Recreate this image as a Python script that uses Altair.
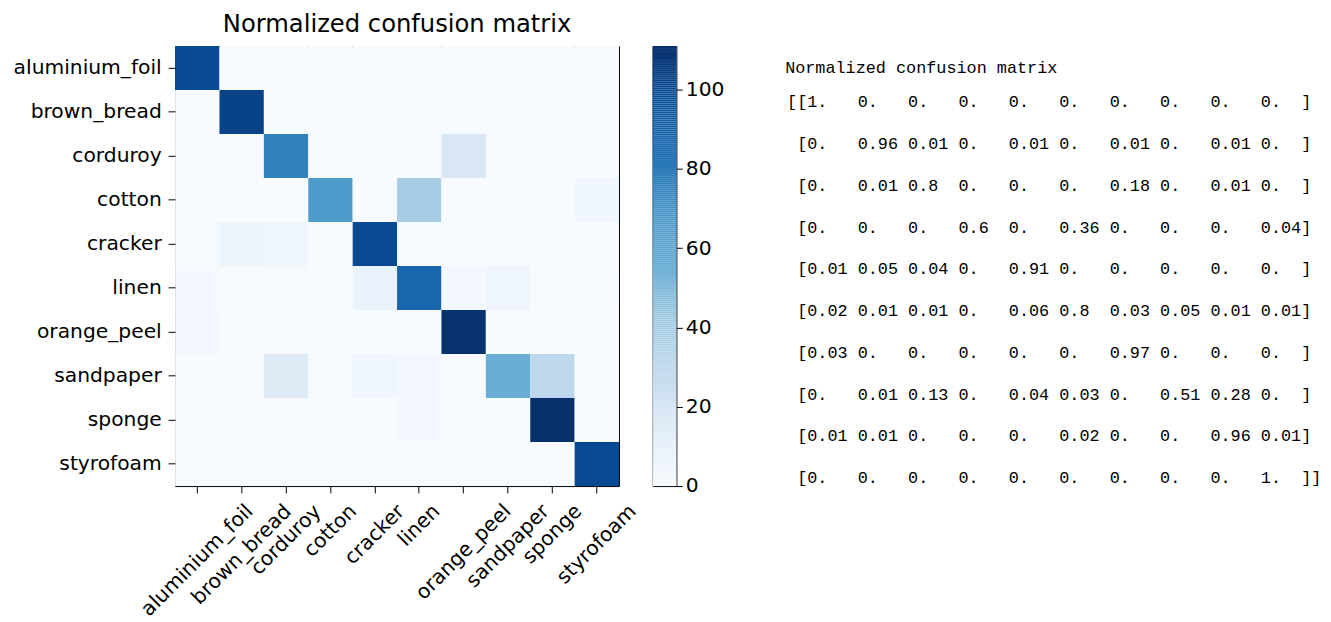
import math
import altair as alt
import pandas as pd

classes = ["aluminium_foil", "brown_bread", "corduroy", "cotton", "cracker",
           "linen", "orange_peel", "sandpaper", "sponge", "styrofoam"]

# raw counts shown by the heatmap colours (rows = true, cols = predicted)
counts = [
    [100, 0, 0, 0, 0, 0, 0, 0, 0, 0],
    [0, 103, 1, 0, 1, 0, 1, 0, 1, 0],
    [0, 1, 76, 0, 0, 0, 17, 0, 1, 0],
    [0, 0, 0, 65, 0, 39, 0, 0, 0, 4],
    [1, 6, 4, 0, 100, 0, 0, 0, 0, 0],
    [2, 1, 1, 0, 7, 88, 3, 5, 1, 1],
    [3, 0, 0, 0, 0, 0, 110, 0, 0, 0],
    [0, 1, 14, 0, 4, 3, 0, 56, 31, 0],
    [1, 1, 0, 0, 0, 2, 0, 0, 111, 1],
    [0, 0, 0, 0, 0, 0, 0, 0, 0, 100],
]

# normalized matrix printed on the right
normalized = [
    [1.0, 0, 0, 0, 0, 0, 0, 0, 0, 0],
    [0, 0.96, 0.01, 0, 0.01, 0, 0.01, 0, 0.01, 0],
    [0, 0.01, 0.8, 0, 0, 0, 0.18, 0, 0.01, 0],
    [0, 0, 0, 0.6, 0, 0.36, 0, 0, 0, 0.04],
    [0.01, 0.05, 0.04, 0, 0.91, 0, 0, 0, 0, 0],
    [0.02, 0.01, 0.01, 0, 0.06, 0.8, 0.03, 0.05, 0.01, 0.01],
    [0.03, 0, 0, 0, 0, 0, 0.97, 0, 0, 0],
    [0, 0.01, 0.13, 0, 0.04, 0.03, 0, 0.51, 0.28, 0],
    [0.01, 0.01, 0, 0, 0, 0.02, 0, 0, 0.96, 0.01],
    [0, 0, 0, 0, 0, 0, 0, 0, 0, 1.0],
]

colorbar_ticks = [0, 20, 40, 60, 80, 100]
title_text = "Normalized confusion matrix"
blues9 = ["#f7fbff", "#deebf7", "#c6dbef", "#9ecae1", "#6baed6",
          "#4292c6", "#2171b5", "#08519c", "#08306b"]

# ---------------------------------------------------------------- helpers
FONT = "DejaVu Sans"
LFS = 20.5        # tick label font size
PW, PH = 449, 445  # heatmap plot size
TICK, PAD = 7, 7

vmax = max(max(r) for r in counts)
cscale = alt.Scale(domain=[vmax * k / 8 for k in range(9)], range=blues9,
                   interpolate="rgb")

heat_df = pd.DataFrame([
    {"true": classes[i], "pred": classes[j], "count": counts[i][j]}
    for i in range(len(classes)) for j in range(len(classes))
])

# DejaVu Sans advance widths (em) to centre rotated labels like matplotlib
EM = {"a": .613, "b": .635, "c": .550, "d": .635, "e": .615, "f": .352,
      "g": .635, "i": .278, "k": .579, "l": .278, "m": .974, "n": .634,
      "o": .612, "p": .635, "r": .411, "s": .521, "t": .392, "u": .634,
      "w": .818, "y": .592, "_": .500}


def label_drop(s):
    w = sum(EM.get(ch, .6) for ch in s) * LFS
    h = 1.15 * LFS
    return PH + TICK + PAD + (w + h) / (2 * math.sqrt(2))


lab_df = pd.DataFrame({"pred": classes, "ly": [label_drop(c) for c in classes]})

xaxis = alt.Axis(labels=False, ticks=True, tickSize=TICK, tickColor="black",
                 domain=False, title=None, grid=False)

rects = alt.Chart(heat_df).mark_rect().encode(
    x=alt.X("pred:N", sort=classes, axis=xaxis,
            scale=alt.Scale(paddingInner=0, paddingOuter=0)),
    y=alt.Y("true:N", sort=classes,
            scale=alt.Scale(paddingInner=0, paddingOuter=0),
            axis=alt.Axis(title=None, labelFont=FONT, labelFontSize=LFS,
                          labelColor="black", tickSize=TICK, tickColor="black",
                          labelPadding=PAD, domain=False, minExtent=168,
                          grid=False)),
    color=alt.Color("count:Q", scale=cscale, legend=None),
)

xlabels = alt.Chart(lab_df).mark_text(
    angle=315, align="center", baseline="middle", font=FONT,
    fontSize=LFS, color="black"
).encode(
    x=alt.X("pred:N", sort=classes, axis=xaxis,
            scale=alt.Scale(paddingInner=0, paddingOuter=0)),
    y=alt.Y("ly:Q", axis=None,
            scale=alt.Scale(domain=[0, PH], range=[0, PH], nice=False,
                            zero=False)),
    text="pred:N",
)

heat = alt.layer(rects, xlabels).resolve_scale(y="independent").properties(
    width=PW, height=PH,
    title=alt.TitleParams(title_text, font=FONT, fontSize=24.5,
                          fontWeight="normal", color="black", offset=9,
                          anchor="middle"),
)

# ---------------------------------------------------------------- colorbar
step = 0.5
cb_df = pd.DataFrame({"v": [k * step for k in range(int(vmax / step))]})
cb_df["v2"] = cb_df["v"] + step

colorbar = alt.Chart(cb_df).mark_rect().encode(
    y=alt.Y("v:Q", scale=alt.Scale(domain=[0, vmax], nice=False, zero=True),
            axis=alt.Axis(orient="right", values=colorbar_ticks, title=None,
                          labelFont=FONT, labelFontSize=LFS,
                          labelColor="black", tickSize=6, tickColor="black",
                          labelPadding=3, domain=False, grid=False)),
    y2="v2:Q",
    color=alt.Color("v:Q", scale=cscale, legend=None),
).properties(width=24, height=PH)

# ---------------------------------------------------------------- text block
NB = "\u00a0"
ZW = "\u200b"


def fmt(v):
    s = f"{v:.2f}".rstrip("0")
    return s.ljust(4)


lines = []
for i, row in enumerate(normalized):
    s = ("[" if i == 0 else " ") + "[" + " ".join(fmt(v) for v in row) + "]"
    if i == len(normalized) - 1:
        s += "]"
    lines.append(ZW + s.replace(" ", NB))

text_df = pd.DataFrame({"line": list(range(1, len(lines) + 1)), "txt": lines})
MONO = "Liberation Mono"

rows_txt = alt.Chart(text_df).mark_text(
    align="left", baseline="middle", font=MONO, fontSize=17, color="black"
).encode(
    x=alt.value(78),
    y=alt.Y("line:Q", axis=None,
            scale=alt.Scale(domain=[1, 10], range=[57, 437], nice=False,
                            zero=False)),
    text="txt:N",
)

header = alt.Chart(pd.DataFrame({"t": [title_text]})).mark_text(
    align="left", baseline="middle", font=MONO, fontSize=17, color="black"
).encode(x=alt.value(76), y=alt.value(22), text="t:N")

textblock = alt.layer(header, rows_txt).properties(
    width=610, height=PH, view={"stroke": "transparent"}
)

chart = alt.hconcat(heat, colorbar, textblock, spacing=34, bounds="flush").properties(
    padding=0
).configure(
    background="white",
    view=alt.ViewConfig(stroke="black", strokeWidth=1),
)

chart.save("out.html", embed_options={"renderer": "svg", "actions": False})
